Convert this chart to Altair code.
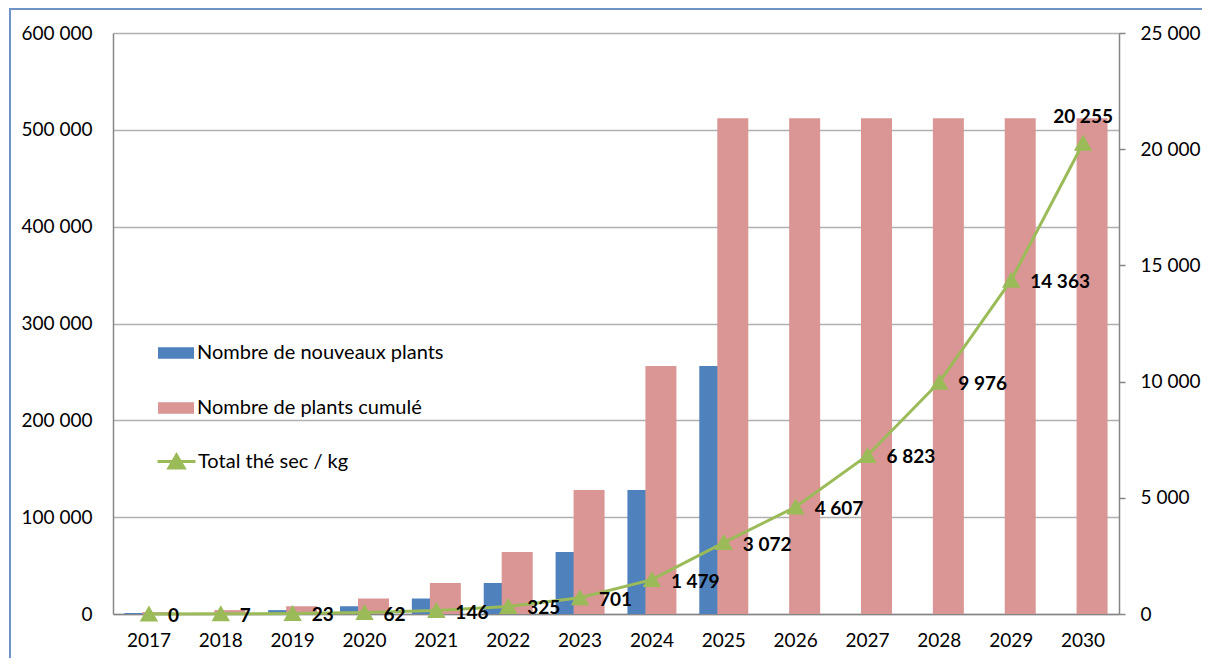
import altair as alt
import pandas as pd

# ---- data ----
years = [str(y) for y in range(2017, 2031)]
new_plants = [1000, 1000, 4000, 8000, 16000, 32000, 64000, 128000, 256000, 0, 0, 0, 0, 0]
cum_plants = [2000, 4000, 8000, 16000, 32000, 64000, 128000, 256000,
              512000, 512000, 512000, 512000, 512000, 512000]
dry_tea_kg = [0, 7, 23, 62, 146, 325, 701, 1479, 3072, 4607, 6823, 9976, 14363, 20255]
series_names = ["Nombre de nouveaux plants", "Nombre de plants cumulé", "Total thé sec / kg"]
series_colors = ["#4F81BD", "#D99694", "#9BBB59"]
left_ticks = [0, 100000, 200000, 300000, 400000, 500000, 600000]
right_ticks = [0, 5000, 10000, 15000, 20000, 25000]

FONT = "Lato"
AXIS_GRAY = "#868686"
FS = 19
LEG_FS = 20

bars = pd.DataFrame({
    "year": years * 2,
    "series": [series_names[0]] * len(years) + [series_names[1]] * len(years),
    "value": new_plants + cum_plants,
})
tea = pd.DataFrame({
    "year": years,
    "kg": dry_tea_kg,
    "series": [series_names[2]] * len(years),
    "label": [f"{v:,}".replace(",", " ") for v in dry_tea_kg],
})

x_enc = alt.X(
    "year:N", sort=years,
    scale=alt.Scale(paddingInner=0, paddingOuter=0),
    axis=alt.Axis(title=None, labelAngle=0, ticks=False, grid=False,
                  domainColor=AXIS_GRAY, domainWidth=1.5,
                  labelFontSize=FS, labelColor="black", labelPadding=17, labelFont=FONT),
)

y_left = alt.Y(
    "value:Q",
    scale=alt.Scale(domain=[0, 600000], nice=False),
    axis=alt.Axis(title=None, values=left_ticks, ticks=False, grid=True,
                  gridColor="#B0B0B0", gridWidth=1.5,
                  domainColor=AXIS_GRAY, domainWidth=1.5,
                  labelFontSize=FS, labelColor="black", labelPadding=21, labelFont=FONT,
                  labelExpr="replace(format(datum.value, ','), ',', ' ')"),
)

y_right = alt.Y(
    "kg:Q",
    scale=alt.Scale(domain=[0, 25000], nice=False),
    axis=alt.Axis(title=None, orient="right", values=right_ticks, grid=False,
                  ticks=True, tickSize=6, tickColor=AXIS_GRAY, tickWidth=1.5,
                  domainColor=AXIS_GRAY, domainWidth=1.5,
                  labelFontSize=FS, labelColor="black", labelPadding=15, labelFont=FONT,
                  labelExpr="replace(format(datum.value, ','), ',', ' ')"),
)

# ---- legends ----
rect_path = "M-1,-0.32H1V0.32H-1Z"
tri_path = "M-1,0H1M-0.4,0.34L0,-0.34L0.4,0.34Z"
bar_legend = alt.Legend(
    title=None, orient="none", legendX=44, legendY=301,
    symbolType=rect_path, symbolSize=1296, symbolOpacity=1,
    rowPadding=26, labelOffset=2, labelLimit=0,
    labelFont=FONT, labelFontSize=LEG_FS, labelColor="black",
)
line_legend = alt.Legend(
    title=None, orient="none", legendX=43, legendY=408,
    symbolType=tri_path, symbolSize=1444, symbolStrokeWidth=3,
    symbolFillColor=series_colors[2], symbolOpacity=1,
    labelOffset=1, labelLimit=0,
    labelFont=FONT, labelFontSize=LEG_FS, labelColor="black",
)
bar_color = alt.Color("series:N",
                      scale=alt.Scale(domain=series_names[:2], range=series_colors[:2]),
                      legend=bar_legend)

# ---- bars (left axis) ----
base_bars = alt.Chart(bars)
blue = base_bars.mark_bar(width=31, xOffset=-9).encode(
    x=x_enc, y=y_left, color=bar_color
).transform_filter(alt.datum.series == series_names[0])
pink = base_bars.mark_bar(width=31, xOffset=9).encode(
    x=x_enc, y=y_left, color=bar_color
).transform_filter(alt.datum.series == series_names[1])
left = alt.layer(blue, pink)

# ---- tea line (right axis) ----
base_tea = alt.Chart(tea)
line = base_tea.mark_line(
    strokeWidth=3,
    point=alt.OverlayMarkDef(shape="triangle-up", filled=True, size=225,
                             color=series_colors[2], opacity=1),
).encode(
    x=x_enc, y=y_right,
    stroke=alt.Stroke("series:N",
                      scale=alt.Scale(domain=[series_names[2]], range=[series_colors[2]]),
                      legend=line_legend),
)
labels = base_tea.mark_text(
    align="left", baseline="middle", dx=19, dy=2,
    font=FONT, fontSize=FS, fontWeight="bold", color="black",
).encode(x=x_enc, y=y_right, text="label:N").transform_filter(alt.datum.year != "2030")
last_label = base_tea.mark_text(
    align="center", baseline="middle", dy=-26,
    font=FONT, fontSize=FS, fontWeight="bold", color="black",
).encode(x=x_enc, y=y_right, text="label:N").transform_filter(alt.datum.year == "2030")
right = alt.layer(line, labels, last_label)

# ---- chart-area border ----
frame = alt.Chart(pd.DataFrame({"f": [0]})).mark_rect(
    fillOpacity=0, stroke="#6F93C8", strokeWidth=2
).encode(x=alt.value(-103), x2=alt.value(1093), y=alt.value(-24), y2=alt.value(660))

chart = alt.layer(left, right, frame).resolve_scale(y="independent").properties(
    width=1006, height=581,
    autosize=alt.AutoSizeParams(type="none"),
    padding={"left": 105, "top": 25, "right": 83, "bottom": 44},
).configure_view(stroke=None).configure_text(font=FONT)

chart.save("out.html", embed_options={"renderer": "svg", "actions": False})
